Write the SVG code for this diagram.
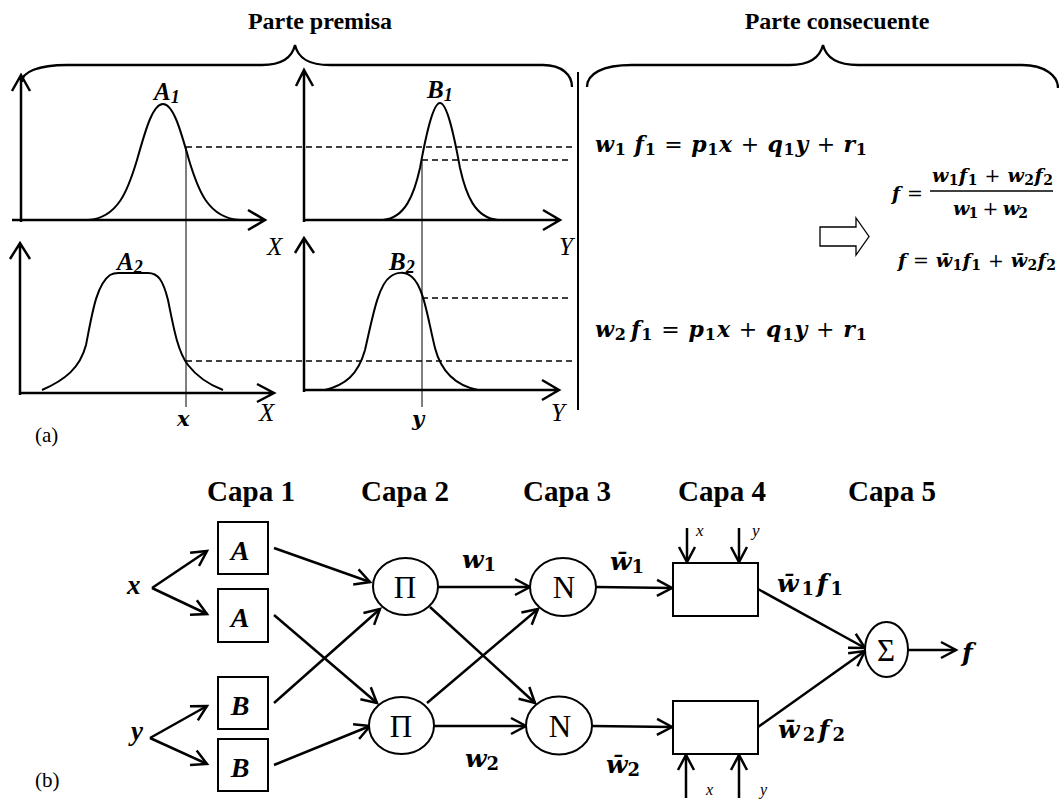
<svg xmlns="http://www.w3.org/2000/svg" width="1059" height="800" viewBox="0 0 1059 800">
<defs>
<style>
.ax{stroke:#000;stroke-width:2.5;fill:none}
.cv{stroke:#000;stroke-width:2;fill:none}
.thin{stroke:#000;stroke-width:1;fill:none}
.dash{stroke:#000;stroke-width:1.3;stroke-dasharray:6 4;fill:none}
.br{stroke:#000;stroke-width:2.3;fill:none}
.t{font-family:"Liberation Serif",serif;fill:#000}
.hd{font-family:"Liberation Serif",serif;font-weight:bold;font-size:24px;text-anchor:middle}
.capa{font-family:"Liberation Serif",serif;font-weight:bold;font-size:29px;text-anchor:middle}
.m{font-family:"Liberation Serif",serif;font-weight:bold;font-style:italic}
.cm{font-family:"DejaVu Serif",serif;font-weight:bold;font-style:italic}
.d{font-style:normal;font-weight:bold}
.op{font-style:normal;font-weight:normal}
.it{font-family:"Liberation Serif",serif;font-style:italic}
.sym{font-family:"Liberation Serif",serif;font-size:31px;text-anchor:middle}
.node{stroke:#000;stroke-width:2;fill:#fff}
.conn{stroke:#000;stroke-width:2.5;fill:none;marker-end:url(#ah)}
</style>
<marker id="ah" markerUnits="userSpaceOnUse" markerWidth="20" markerHeight="20" refX="16" refY="9" orient="auto" viewBox="0 0 20 18">
<path d="M1,1 L16,9 L1,17" fill="none" stroke="#000" stroke-width="2.5"/>
</marker>
</defs>
<rect width="1059" height="800" fill="#fff"/>

<!-- (a) top part -->
<g id="headings">
<text class="hd" x="320" y="29">Parte premisa</text>
<text class="hd" x="837" y="29">Parte consecuente</text>
</g>
<g id="braces">
<path class="br" d="M22,82 C22,72 38,65 67,65 L262,65 C282,65 292,58 295,45 C298,58 308,65 330,65 L543,65 C562,65 572,75 572,87"/>
<path class="br" d="M587,87 C587,74 602,65 632,65 L790,65 C810,65 820,57 823,45 C826,57 836,65 858,65 L1022,65 C1045,65 1058,76 1058,88"/>
<line x1="578" y1="72" x2="578" y2="410" stroke="#000" stroke-width="2"/>
</g>

<g id="graph-A1">
<path class="ax" d="M21,222 L21,76 M12,91 L21,75 L30,91"/>
<path class="ax" d="M12,220 L264,220 M248,210 L265,220 L248,230"/>
<path class="cv" d="M88,220 C118,218 128,190 137,160 C146,128 153,104 163,104 C173,104 180,128 189,160 C198,190 208,218 240,220"/>
<text class="m" x="154" y="100" font-size="25">A<tspan font-size="18" dy="3">1</tspan></text>
</g>
<g id="graph-B1">
<path class="ax" d="M304,222 L304,71 M296,86 L304,70 L313,86"/>
<path class="ax" d="M304,220 L559,220 M543,210 L560,220 L543,230"/>
<path class="cv" d="M383,220 C405,218 414,195 420,168 C426,135 433,103 440,103 C447,103 454,135 460,168 C466,195 475,218 498,220"/>
<text class="m" x="427" y="98" font-size="25">B<tspan font-size="18" dy="3">1</tspan></text>
</g>
<g id="graph-A2">
<path class="ax" d="M20,395 L20,244 M10,259 L20,243 L30,259"/>
<path class="ax" d="M20,393 L273,393 M257,384 L274,393 L257,402"/>
<path class="cv" d="M42,390 C65,380 80,368 86,345 C92,315 96,285 110,275 C115,272 118,273 122,273 L148,273 C158,273 163,280 168,300 C174,330 178,352 188,365 C198,378 210,385 223,390"/>
<text class="m" x="117" y="270" font-size="25">A<tspan font-size="18" dy="3">2</tspan></text>
</g>
<g id="graph-B2">
<path class="ax" d="M304,392 L304,239 M295,253 L304,238 L314,253"/>
<path class="ax" d="M304,390 L558,390 M542,380 L559,390 L542,400"/>
<path class="cv" d="M325,390 C345,385 358,375 365,350 C372,320 378,285 390,277 C396,272 405,271 412,277 C424,287 428,320 435,348 C442,375 458,386 478,390"/>
<text class="m" x="389" y="270" font-size="25">B<tspan font-size="18" dy="3">2</tspan></text>
</g>
<g id="guides">
<line class="thin" x1="186" y1="147" x2="186" y2="407"/>
<line class="thin" x1="422" y1="161" x2="422" y2="407"/>
<line class="dash" x1="186" y1="147" x2="572" y2="147"/>
<line class="dash" x1="422" y1="160" x2="572" y2="160"/>
<line class="dash" x1="422" y1="298" x2="572" y2="298"/>
<line class="dash" x1="186" y1="361" x2="572" y2="361"/>
</g>
<g id="axis-labels">
<text class="it" x="267" y="255" font-size="25">X</text>
<text class="it" x="559" y="255" font-size="25">Y</text>
<text class="it" x="259" y="421" font-size="25">X</text>
<text class="it" x="551" y="421" font-size="25">Y</text>
<text class="cm" x="177" y="426" font-size="21">x</text>
<text class="cm" x="412" y="426" font-size="21">y</text>
<text class="t" x="35" y="442" font-size="21">(a)</text>
</g>

<g id="equations">
<text class="cm" x="595" y="152" font-size="22" textLength="272" lengthAdjust="spacing">w<tspan class="d" font-size="16" dy="3">1</tspan><tspan dy="-3" dx="8">f</tspan><tspan class="d" font-size="16" dy="3">1</tspan><tspan class="op" dy="-3"> = </tspan>p<tspan class="d" font-size="16" dy="3">1</tspan><tspan dy="-3">x</tspan><tspan class="op"> + </tspan>q<tspan class="d" font-size="16" dy="3">1</tspan><tspan dy="-3">y</tspan><tspan class="op"> + </tspan>r<tspan class="d" font-size="16" dy="3">1</tspan></text>
<text class="cm" x="595" y="337" font-size="22" textLength="272" lengthAdjust="spacing">w<tspan class="d" font-size="16" dy="3">2</tspan><tspan dy="-3" dx="4">f</tspan><tspan class="d" font-size="16" dy="3">1</tspan><tspan class="op" dy="-3"> = </tspan>p<tspan class="d" font-size="16" dy="3">1</tspan><tspan dy="-3">x</tspan><tspan class="op"> + </tspan>q<tspan class="d" font-size="16" dy="3">1</tspan><tspan dy="-3">y</tspan><tspan class="op"> + </tspan>r<tspan class="d" font-size="16" dy="3">1</tspan></text>
<polygon points="820,227 856,227 856,218 869,236.5 856,255 856,246 820,246" fill="#fff" stroke="#000" stroke-width="1.3"/>
<text class="cm" x="892" y="200" font-size="19" textLength="31" lengthAdjust="spacing">f<tspan class="op"> =</tspan></text>
<text class="cm" x="932" y="182" font-size="19" textLength="121" lengthAdjust="spacing">w<tspan class="d" font-size="14" dy="3">1</tspan><tspan dy="-3">f</tspan><tspan class="d" font-size="14" dy="3">1</tspan><tspan class="op" dy="-3"> + </tspan>w<tspan class="d" font-size="14" dy="3">2</tspan><tspan dy="-3">f</tspan><tspan class="d" font-size="14" dy="3">2</tspan></text>
<line x1="930" y1="191" x2="1053" y2="191" stroke="#000" stroke-width="1.6"/>
<text class="cm" x="953" y="215" font-size="19" textLength="75" lengthAdjust="spacing">w<tspan class="d" font-size="14" dy="3">1</tspan><tspan class="op" dy="-3"> + </tspan>w<tspan class="d" font-size="14" dy="3">2</tspan></text>
<text class="cm" x="898" y="267" font-size="19" textLength="158" lengthAdjust="spacing">f<tspan class="op"> = </tspan>w&#x304;<tspan class="d" font-size="14" dy="3">1</tspan><tspan dy="-3">f</tspan><tspan class="d" font-size="14" dy="3">1</tspan><tspan class="op" dy="-3"> + </tspan>w&#x304;<tspan class="d" font-size="14" dy="3">2</tspan><tspan dy="-3">f</tspan><tspan class="d" font-size="14" dy="3">2</tspan></text>
</g>

<!-- (b) network -->
<g id="layer-titles">
<text class="capa" x="251" y="501">Capa 1</text>
<text class="capa" x="405" y="501">Capa 2</text>
<text class="capa" x="567" y="501">Capa 3</text>
<text class="capa" x="722" y="501">Capa 4</text>
<text class="capa" x="892" y="501">Capa 5</text>
</g>
<g id="connectors">
<line class="conn" x1="152" y1="588" x2="207" y2="551"/>
<line class="conn" x1="152" y1="588" x2="207" y2="614"/>
<line class="conn" x1="150" y1="738" x2="207" y2="706"/>
<line class="conn" x1="150" y1="738" x2="207" y2="764"/>
<line class="conn" x1="274" y1="548" x2="370" y2="582"/>
<line class="conn" x1="274" y1="615" x2="377" y2="703"/>
<line class="conn" x1="274" y1="703" x2="380" y2="609"/>
<line class="conn" x1="274" y1="765" x2="370" y2="726"/>
<line class="conn" x1="438" y1="587" x2="530" y2="587"/>
<line class="conn" x1="430" y1="607" x2="535" y2="703"/>
<line class="conn" x1="427" y1="703" x2="538" y2="609"/>
<line class="conn" x1="434" y1="726" x2="526" y2="726"/>
<line class="conn" x1="596" y1="587" x2="672" y2="588"/>
<line class="conn" x1="592" y1="726" x2="672" y2="727"/>
<line class="conn" x1="687" y1="528" x2="687" y2="562"/>
<line class="conn" x1="739" y1="528" x2="739" y2="562"/>
<line class="conn" x1="686" y1="798" x2="686" y2="755"/>
<line class="conn" x1="739" y1="798" x2="739" y2="755"/>
<line class="conn" x1="758" y1="589" x2="865" y2="648"/>
<line class="conn" x1="758" y1="727" x2="865" y2="651"/>
<line class="conn" x1="908" y1="650" x2="956" y2="650"/>
</g>
<g id="input-x"><text class="m" x="127" y="594" font-size="27">x</text></g>
<g id="input-y"><text class="m" x="131" y="740" font-size="27">y</text></g>
<g id="A1"><rect class="node" x="218" y="522" width="50" height="52"/><text class="m" x="240" y="560" font-size="28" text-anchor="middle">A</text></g>
<g id="A2"><rect class="node" x="218" y="589" width="50" height="53"/><text class="m" x="240" y="627" font-size="28" text-anchor="middle">A</text></g>
<g id="B1"><rect class="node" x="218" y="677" width="50" height="52"/><text class="m" x="240" y="715" font-size="28" text-anchor="middle">B</text></g>
<g id="B2"><rect class="node" x="218" y="739" width="50" height="52"/><text class="m" x="240" y="777" font-size="28" text-anchor="middle">B</text></g>
<g id="P1"><ellipse class="node" cx="405.5" cy="586.5" rx="32.5" ry="28.5"/><text class="sym" x="405" y="598">&#x3A0;</text></g>
<g id="P2"><ellipse class="node" cx="401.5" cy="725.5" rx="32.5" ry="28.5"/><text class="sym" x="401" y="737">&#x3A0;</text></g>
<g id="N1"><ellipse class="node" cx="563" cy="587" rx="33" ry="29"/><text class="sym" x="564" y="598">N</text></g>
<g id="N2"><ellipse class="node" cx="559" cy="725.5" rx="33" ry="29"/><text class="sym" x="560" y="737">N</text></g>
<g id="L4a"><rect class="node" x="673" y="563" width="85" height="53"/></g>
<g id="L4b"><rect class="node" x="673" y="701" width="85" height="53"/></g>
<g id="S"><ellipse class="node" cx="886.5" cy="649.5" rx="21.5" ry="27.5"/><text class="sym" x="886" y="661" font-size="29">&#x3A3;</text></g>
<g id="out-f"><text class="cm" x="962" y="661" font-size="25">f</text></g>
<g id="labels">
<text class="cm" x="462" y="568" font-size="25">w<tspan class="d" font-size="18" dy="3">1</tspan></text>
<text class="cm" x="465" y="767" font-size="25">w<tspan class="d" font-size="18" dy="3">2</tspan></text>
<text class="cm" x="610" y="570" font-size="25">w&#x304;<tspan class="d" font-size="18" dy="3">1</tspan></text>
<text class="cm" x="606" y="773" font-size="25">w&#x304;<tspan class="d" font-size="18" dy="3">2</tspan></text>
<text class="cm" x="777" y="592" font-size="25" textLength="66" lengthAdjust="spacing">w&#x304;<tspan class="d" font-size="18" dy="3">1</tspan><tspan dy="-3">f</tspan><tspan class="d" font-size="18" dy="3">1</tspan></text>
<text class="cm" x="778" y="738" font-size="25" textLength="67" lengthAdjust="spacing">w&#x304;<tspan class="d" font-size="18" dy="3">2</tspan><tspan dy="-3">f</tspan><tspan class="d" font-size="18" dy="3">2</tspan></text>
<text class="it" x="696" y="536" font-size="17">x</text>
<text class="it" x="752" y="536" font-size="17">y</text>
<text class="it" x="706" y="795" font-size="16">x</text>
<text class="it" x="760" y="795" font-size="16">y</text>
<text class="t" x="35" y="787" font-size="21">(b)</text>
</g>
</svg>
